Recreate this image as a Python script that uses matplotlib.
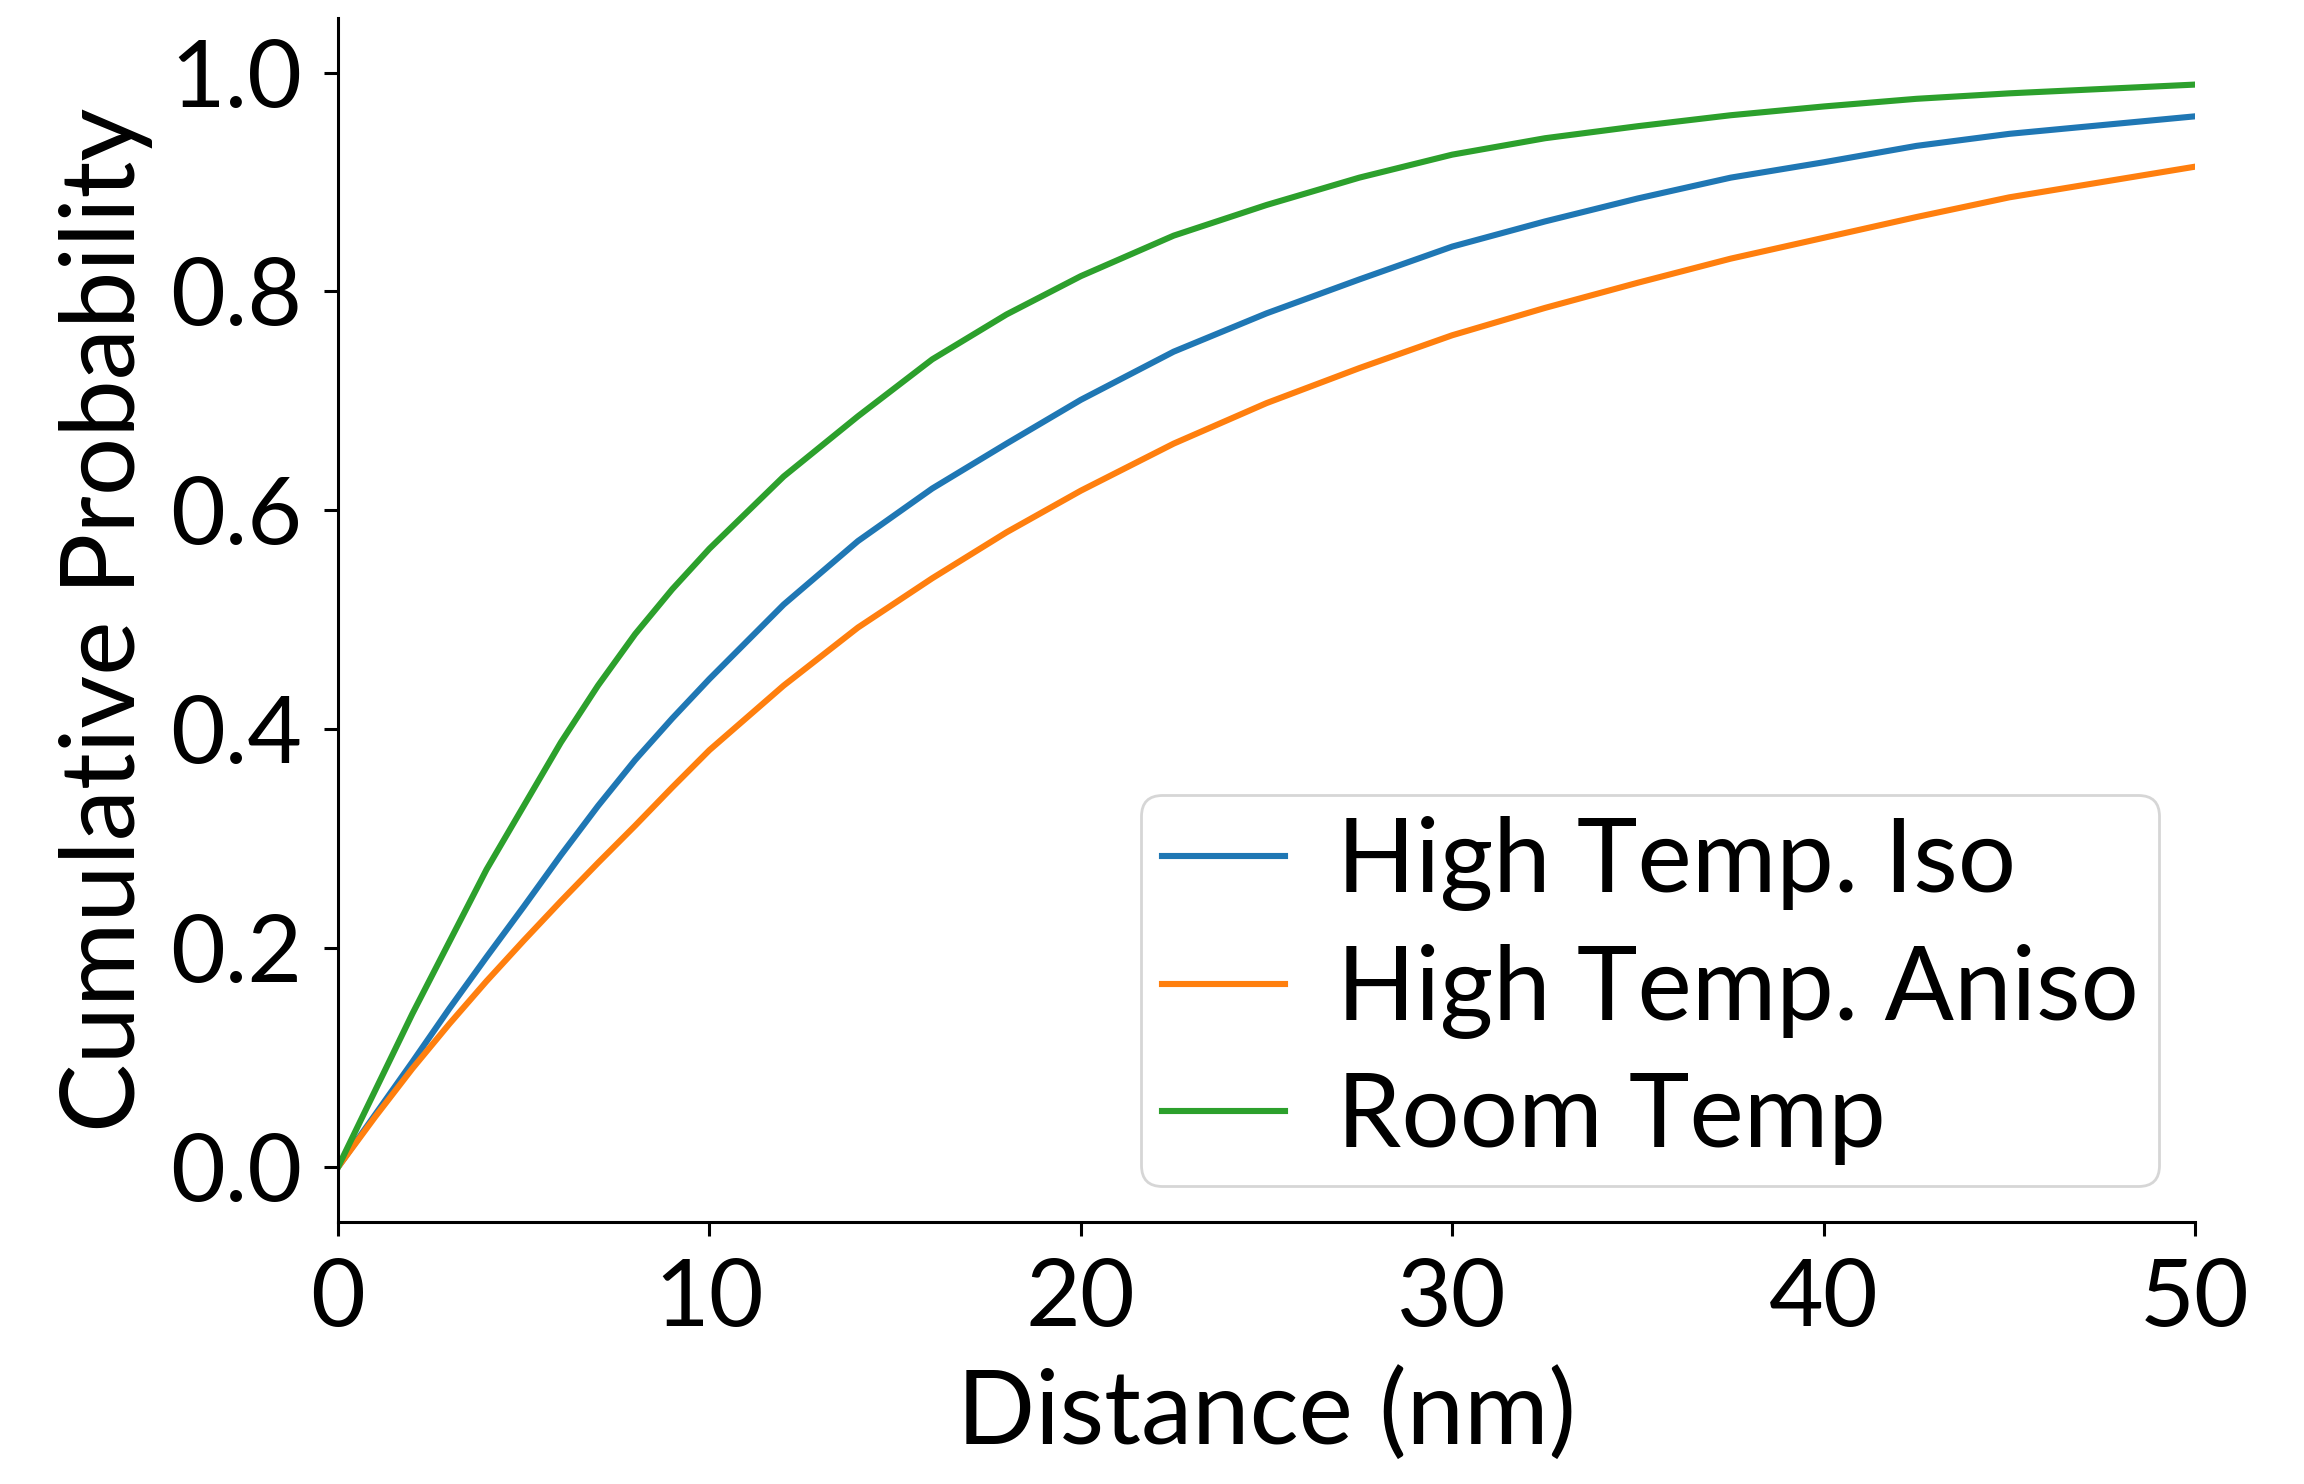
import matplotlib
matplotlib.use('Agg')
import matplotlib.pyplot as plt

plt.rcParams['font.family'] = ['Lato', 'DejaVu Sans']

# distance (nm) and cumulative probability
distance = [0, 1, 2, 3, 4, 5, 6, 7, 8, 9, 10, 12, 14, 16, 18, 20, 22.5, 25,
            27.5, 30, 32.5, 35, 37.5, 40, 42.5, 45, 47.5, 50]
high_iso = [0, 0.048, 0.096, 0.145, 0.192, 0.238, 0.285, 0.330, 0.372,
            0.410, 0.446, 0.514, 0.572, 0.620, 0.661, 0.701, 0.745, 0.780,
            0.811, 0.841, 0.864, 0.885, 0.904, 0.918, 0.933, 0.944, 0.952,
            0.960]
high_aniso = [0, 0.046, 0.090, 0.131, 0.170, 0.207, 0.243, 0.278, 0.312,
              0.347, 0.381, 0.440, 0.493, 0.538, 0.580, 0.618, 0.661, 0.698,
              0.730, 0.760, 0.785, 0.808, 0.830, 0.849, 0.868, 0.886, 0.900,
              0.914]
room = [0, 0.070, 0.140, 0.206, 0.272, 0.330, 0.388, 0.440, 0.487, 0.528,
        0.565, 0.631, 0.686, 0.738, 0.779, 0.814, 0.851, 0.879, 0.904,
        0.925, 0.940, 0.951, 0.961, 0.969, 0.976, 0.981, 0.985, 0.989]
labels = ['High Temp. Iso', 'High Temp. Aniso', 'Room Temp']

fig = plt.figure(figsize=(11.52, 7.42), dpi=200)
ax = fig.add_axes([0.1467, 0.1766, 0.806, 0.8114])

for ys, lab in zip([high_iso, high_aniso, room], labels):
    ax.plot(distance, ys, linewidth=2.2, label=lab)

ax.set_xlim(0, 50)
ax.set_ylim(-0.05, 1.05)
ax.set_xticks([0, 10, 20, 30, 40, 50])
ax.set_yticks([0.0, 0.2, 0.4, 0.6, 0.8, 1.0])
ax.set_yticklabels(['0.0', '0.2', '0.4', '0.6', '0.8', '1.0'])

ax.spines['top'].set_visible(False)
ax.spines['right'].set_visible(False)
for s in ['left', 'bottom']:
    ax.spines[s].set_linewidth(1.1)
ax.tick_params(labelsize=34, length=5, width=1.1, pad=8)

ax.set_xlabel('Distance (nm)', fontsize=37, labelpad=9)
ax.set_ylabel('Cumulative Probability', fontsize=37, labelpad=6)

ax.legend(loc='lower right', fontsize=37, handlelength=1.2,
          labelspacing=0.32, borderpad=0.2, handletextpad=0.5,
          borderaxespad=0.35)

fig.savefig('out.png', dpi=200)
